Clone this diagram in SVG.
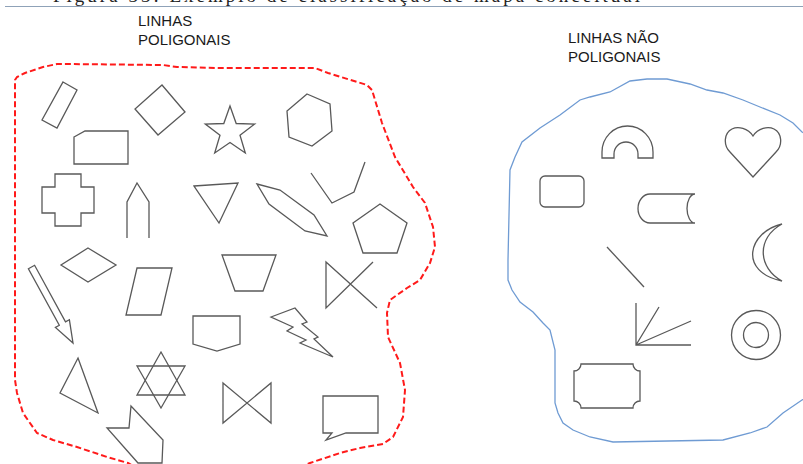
<svg xmlns="http://www.w3.org/2000/svg" width="803" height="464" viewBox="0 0 803 464">
<style>
.sh{fill:none;stroke:#595959;stroke-width:1.3;stroke-linejoin:miter}
.lbl{font-family:"Liberation Sans",Arial,sans-serif;font-size:15px;fill:#1a1a1a}
</style>
<rect width="803" height="464" fill="#fff"/>
<g id="caption">
<text x="53" y="2" font-family="'Liberation Serif',serif" font-size="19" fill="#222" textLength="587" lengthAdjust="spacing">Figura 33: Exemplo de classificação de mapa conceitual</text>
<line x1="5" y1="6.5" x2="803" y2="6.5" stroke="#8fa2b8" stroke-width="1.2"/>
</g>
<g id="labels">
<text class="lbl" x="138" y="26">LINHAS</text>
<text class="lbl" x="138" y="45">POLIGONAIS</text>
<text class="lbl" x="568" y="43">LINHAS NÃO</text>
<text class="lbl" x="568" y="62">POLIGONAIS</text>
</g>
<g id="boundaries">
<path id="red-boundary" d="M140,470 L128,463 L107,457 L77,447 L53,440 L37,433 L23,413 L17,393 L15,380 L15,80 L17,77 L25,73 L43,67 L57,64 L67,64 L163,65 L177,67 L220,68 L315,68 L328,73 L367,85 L372,90 L382,123 L395,157 L413,187 L425,203 L433,227 L435,247 L430,263 L420,280 L407,288 L390,300 L387,313 L388,337 L400,363 L405,390 L403,417 L393,437 L383,444 L360,448 L340,453 L310,463 L295,470" fill="none" stroke="#ff1a1a" stroke-width="2" stroke-dasharray="6 3"/>
<path id="blue-boundary" d="M810,136 L802,132 L793,123 L780,115 L760,107 L743,100 L723,93 L707,90 L690,84 L667,79 L647,79 L630,81 L610,92 L590,97 L580,100 L560,115 L540,128 L522,142 L515,157 L510,170 L508,260 L508,280 L512,290 L520,302 L533,312 L543,323 L550,330 L555,350 L555,403 L558,413 L563,423 L573,430 L590,437 L613,442 L723,440 L750,433 L767,427 L783,413 L802,400 L810,396" fill="none" stroke="#6f9bd3" stroke-width="1.3"/>
</g>
<g id="polygonal">
<g id="p-rect"><polygon class="sh" points="63,82 77,90 57,128 42,120"/></g>
<g id="p-diamond"><polygon class="sh" points="162,85 185,112 158,135 135,109"/></g>
<g id="p-cutrect"><polygon class="sh" points="74,137 85,131 128,131 128,164 74,164"/></g>
<g id="p-cross"><polygon class="sh" points="55,174 81,174 81,187 94,187 94,213 81,213 81,226 55,226 55,213 42,213 42,187 55,187"/></g>
<g id="p-pencil"><polyline class="sh" points="127,238 127,202 137,183 149,202 149,238"/></g>
<g id="p-star"><polygon class="sh" points="230,106 236.2,123.5 254.7,124 240,135.3 245.3,153 230,142.5 214.7,153 220,135.3 205.3,124 223.8,123.5"/></g>
<g id="p-hexagon"><polygon class="sh" points="307,94 330,104 332,131 312,146 289,137 287,111"/></g>
<g id="p-triangle1"><polygon class="sh" points="194,186 238,183 219,223"/></g>
<g id="p-longhex"><polygon class="sh" points="257,184 280,190 314,215 327,236 305,231 269,204"/></g>
<g id="p-angle"><polyline class="sh" points="311,173 332,203 354,192 365,162"/></g>
<g id="p-pentagon"><polygon class="sh" points="380,204 407,223 397,253 363,253 353,223"/></g>
<g id="p-rhombus"><polygon class="sh" points="88,248 116,265 88,282 61,265"/></g>
<g id="p-arrow"><polygon class="sh" points="28.4,268.7 34.6,265.3 65.5,321.9 69.4,319.8 73,343 55.4,327.4 59.3,325.3"/></g>
<g id="p-parallelogram"><polygon class="sh" points="137,268 172,268 161,315 126,315"/></g>
<g id="p-trapezoid"><polygon class="sh" points="222,255 276,255 263,291 235,291"/></g>
<g id="p-xshape"><polyline class="sh" points="373,262 326,308 326,262 377,308"/></g>
<g id="p-shield"><polygon class="sh" points="193,316 240,316 240,344 217,351 193,344"/></g>
<g id="p-lightning"><polygon class="sh" points="271,317 295,308 307,322 302,324 318,337 314,339 333,357 300,343 306,340 287,331 293,327"/></g>
<g id="p-triangle2"><polygon class="sh" points="78,358 98,413 60,393"/></g>
<g id="p-starofdavid"><polygon class="sh" points="161,352 185,395 137,395"/><polygon class="sh" points="137,366 185,366 161,408"/></g>
<g id="p-notch"><polygon class="sh" points="107,428 129,428 131,406 163,440 162,463 138,463"/></g>
<g id="p-bowtie"><polygon class="sh" points="223,383 271,423 271,383 223,423"/></g>
<g id="p-bubble"><polygon class="sh" points="323,396 378,396 378,433 346,433 326,440 332,433 323,433"/></g>
</g>
<g id="nonpolygonal">
<g id="n-arch"><path class="sh" d="M602,158 L602,152 A25.5,26 0 0 1 653,152 L653,158 L638,158 L638,154 A12,12 0 0 0 614,154 L614,158 Z"/></g>
<g id="n-heart"><path class="sh" d="M753,136 C748,128 738,126 732,129 C724,133 723,145 730,152 L753,177 L776,152 C783,145 782,133 774,129 C768,126 758,128 753,136 Z"/></g>
<g id="n-roundrect"><rect class="sh" x="540" y="176" width="44" height="31" rx="5"/></g>
<g id="n-cylinder"><path class="sh" d="M650,194 L695,194 M650,223 L695,223 M650,194 A12,14.5 0 0 0 650,223 M695,194 A8,14.5 0 0 0 695,223"/></g>
<g id="n-moon"><path class="sh" d="M782,224 C748,232 738,272 782,281 C758,268 756,238 782,224 Z"/></g>
<g id="n-line"><line class="sh" x1="607" y1="247" x2="644" y2="287"/></g>
<g id="n-fan"><path class="sh" d="M636,303 L636,345 L691,345 M636,345 L659,307 M636,345 L691,321"/></g>
<g id="n-rings"><circle class="sh" cx="756" cy="335" r="24.5"/><circle class="sh" cx="756" cy="335" r="12.5"/></g>
<g id="n-plaque"><path class="sh" d="M581,364 L633,364 A7,7 0 0 0 640,371 L640,401 A7,7 0 0 0 633,408 L581,408 A7,7 0 0 0 574,401 L574,371 A7,7 0 0 0 581,364 Z"/></g>
</g>
</svg>
